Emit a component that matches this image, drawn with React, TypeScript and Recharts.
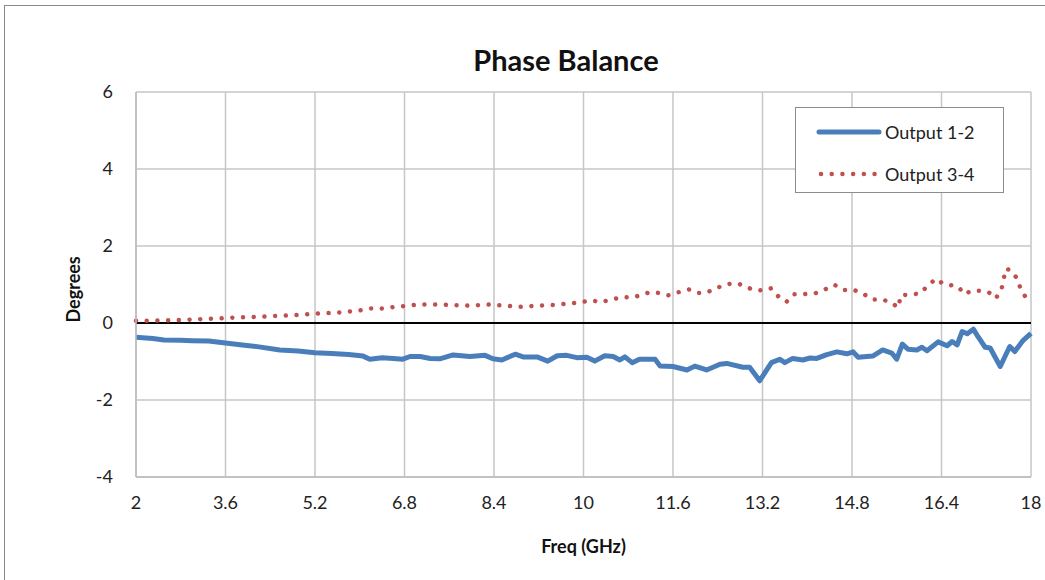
import React from 'react';
import { LineChart, Line, XAxis, YAxis, CartesianGrid, ReferenceLine } from 'recharts';

// Output 1-2 (solid blue)
const freq12 = [
  2.0, 2.3, 2.5, 2.8, 3.0, 3.3, 3.6, 3.9, 4.2, 4.57, 4.9, 5.2, 5.5, 5.8, 6.06, 6.18, 6.4, 6.6, 6.77, 6.9,
  7.08, 7.26, 7.43, 7.67, 7.97, 8.24, 8.38, 8.54, 8.78, 8.92, 9.17, 9.36, 9.53, 9.7, 9.88, 10.06, 10.2,
  10.38, 10.53, 10.65, 10.74, 10.87, 11.0, 11.28, 11.37, 11.6, 11.85, 11.99, 12.2, 12.44, 12.56, 12.85,
  12.97, 13.15, 13.36, 13.51, 13.6, 13.74, 13.92, 14.05, 14.17, 14.35, 14.53, 14.71, 14.82, 14.91, 15.17,
  15.35, 15.51, 15.6, 15.7, 15.8, 15.96, 16.05, 16.14, 16.34, 16.5, 16.59, 16.68, 16.77, 16.86, 16.97,
  17.05, 17.18, 17.27, 17.45, 17.62, 17.71, 17.86, 18.0,
];
const deg12 = [
  -0.37, -0.4, -0.44, -0.45, -0.46, -0.47, -0.52, -0.57, -0.62, -0.7, -0.73, -0.77, -0.79, -0.82, -0.86, -0.94, -0.9, -0.92, -0.94, -0.87,
  -0.87, -0.92, -0.93, -0.83, -0.87, -0.84, -0.93, -0.96, -0.81, -0.88, -0.88, -0.99, -0.85, -0.84, -0.9, -0.89, -0.99,
  -0.85, -0.87, -0.96, -0.88, -1.03, -0.94, -0.94, -1.12, -1.13, -1.22, -1.12, -1.22, -1.07, -1.05, -1.15,
  -1.15, -1.5, -1.03, -0.94, -1.03, -0.92, -0.96, -0.91, -0.92, -0.82, -0.75, -0.8, -0.75, -0.89, -0.86,
  -0.7, -0.78, -0.94, -0.55, -0.68, -0.7, -0.63, -0.72, -0.49, -0.59, -0.48, -0.57, -0.22, -0.28, -0.16,
  -0.35, -0.63, -0.65, -1.13, -0.61, -0.74, -0.45, -0.27,
];

// Output 3-4 (red dotted)
const freq34 = [
  2.0, 2.3, 2.6, 2.9, 3.14, 3.5, 3.9, 4.2, 4.45, 4.8, 5.2, 5.6, 5.97, 6.2, 6.35, 6.5, 6.8, 7.06, 7.4, 7.95,
  8.3, 8.86, 9.2, 9.5, 9.77, 9.95, 10.14, 10.3, 10.5, 10.68, 10.9, 11.05, 11.19, 11.35, 11.52, 11.7, 11.89,
  12.05, 12.2, 12.4, 12.57, 12.75, 12.9, 13.0, 13.21, 13.35, 13.49, 13.63, 13.77, 13.95, 14.14, 14.3, 14.49,
  14.65, 14.83, 15.0, 15.17, 15.35, 15.51, 15.63, 15.67, 15.85, 16.02, 16.15, 16.3, 16.43, 16.52, 16.6,
  16.71, 16.8, 16.95, 17.1, 17.25, 17.37, 17.47, 17.51, 17.55, 17.64, 17.75, 17.81, 17.9,
];
const deg34 = [
  0.06, 0.06, 0.07, 0.08, 0.1, 0.12, 0.15, 0.16, 0.18, 0.2, 0.24, 0.27, 0.32, 0.38, 0.37, 0.4, 0.44, 0.48, 0.48, 0.45,
  0.48, 0.42, 0.45, 0.47, 0.51, 0.54, 0.59, 0.54, 0.61, 0.67, 0.67, 0.74, 0.8, 0.78, 0.72, 0.8, 0.87,
  0.78, 0.79, 0.92, 1.01, 1.03, 0.95, 0.88, 0.84, 0.9, 0.68, 0.55, 0.75, 0.75, 0.77, 0.86, 0.99,
  0.86, 0.86, 0.76, 0.61, 0.61, 0.52, 0.4, 0.72, 0.74, 0.77, 0.96, 1.15, 1.02, 1.0, 0.97,
  0.93, 0.75, 0.84, 0.84, 0.79, 0.64, 0.86, 1.13, 1.41, 1.37, 1.16, 0.91, 0.68,
];

const xTicks = [2, 3.6, 5.2, 6.8, 8.4, 10, 11.6, 13.2, 14.8, 16.4, 18];
const yTicks = [-4, -2, 0, 2, 4, 6];

const BLUE = '#4a7ebb';
const RED = '#c0504d';
const FONT = 'Lato, "Open Sans", sans-serif';

const data12 = freq12.map((f, i) => ({ f, v: deg12[i] }));
const data34 = freq34.map((f, i) => ({ f, v: deg34[i] }));

const LegendBox = () => (
  <div
    style={{
      position: 'absolute',
      left: 795,
      top: 107,
      width: 209,
      height: 86,
      border: '1px solid #8c8c8c',
      background: '#fff',
      fontFamily: FONT,
      fontSize: 18,
      color: '#222',
      boxSizing: 'border-box',
    }}
  >
    <div style={{ display: 'flex', alignItems: 'center', height: 44, paddingTop: 2 }}>
      <svg width={89} height={10}>
        <line x1={23} y1={5} x2={83} y2={5} stroke={BLUE} strokeWidth={5} strokeLinecap="round" />
      </svg>
      <span>Output 1-2</span>
    </div>
    <div style={{ display: 'flex', alignItems: 'center', height: 40 }}>
      <svg width={89} height={10}>
        <line x1={25} y1={5} x2={83} y2={5} stroke={RED} strokeWidth={4.5} strokeDasharray="0.01 10.7" strokeLinecap="round" />
      </svg>
      <span>Output 3-4</span>
    </div>
  </div>
);

export default function App() {
  return (
    <div style={{ position: 'absolute', left: 0, top: 0, width: 1045, height: 580, background: '#fff', overflow: 'hidden' }}>
      <div style={{ position: 'absolute', left: 4, top: 5, width: 1100, height: 600, border: '1.5px solid #8a8a8a' }} />
      <div
        style={{
          position: 'absolute',
          left: 0,
          width: 1132,
          top: 42,
          textAlign: 'center',
          fontFamily: FONT,
          fontWeight: 700,
          fontSize: 29,
          color: '#111',
        }}
      >
        Phase Balance
      </div>
      <div style={{ position: 'absolute', left: 0, top: 0 }}>
        <LineChart width={1045} height={580} margin={{ top: 92, right: 14, bottom: 73, left: 76 }}>
          <CartesianGrid stroke="#c6c6c6" strokeWidth={1.5} />
          <XAxis
            type="number"
            dataKey="f"
            domain={[2, 18]}
            ticks={xTicks}
            allowDuplicatedCategory={false}
            height={30}
            axisLine={{ stroke: '#bdbdbd', strokeWidth: 1.5 }}
            tickLine={false}
            tickSize={0}
            tickMargin={19}
            tick={{ fill: '#222', fontSize: 18, fontFamily: FONT }}
            label={{ value: 'Freq (GHz)', position: 'insideBottom', offset: -46, fill: '#111', fontSize: 18, fontWeight: 700, fontFamily: FONT }}
          />
          <YAxis
            type="number"
            domain={[-4, 6]}
            ticks={yTicks}
            width={60}
            axisLine={{ stroke: '#bdbdbd', strokeWidth: 1.5 }}
            tickLine={false}
            tickSize={0}
            tickMargin={23}
            tick={{ fill: '#222', fontSize: 18, fontFamily: FONT }}
            label={{ value: 'Degrees', angle: -90, position: 'insideLeft', offset: -2, dy: 38, fill: '#111', fontSize: 18, fontWeight: 700, fontFamily: FONT }}
          />
          <ReferenceLine y={0} stroke="#000" strokeWidth={2} />
          <Line
            data={data12}
            dataKey="v"
            name="Output 1-2"
            type="linear"
            stroke={BLUE}
            strokeWidth={5}
            strokeLinejoin="round"
            dot={false}
            isAnimationActive={false}
          />
          <Line
            data={data34}
            dataKey="v"
            name="Output 3-4"
            type="linear"
            stroke={RED}
            strokeWidth={4.5}
            strokeDasharray="0.01 10.7"
            strokeLinecap="round"
            dot={false}
            isAnimationActive={false}
          />
        </LineChart>
      </div>
      <LegendBox />
    </div>
  );
}
